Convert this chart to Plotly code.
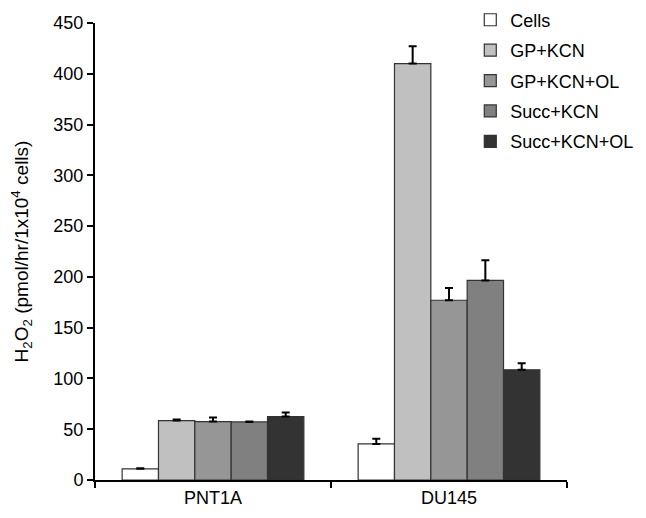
import plotly.graph_objects as go

categories = ["PNT1A", "DU145"]
series_names = ["Cells", "GP+KCN", "GP+KCN+OL", "Succ+KCN", "Succ+KCN+OL"]
values = {
    "Cells": [11, 35.5],
    "GP+KCN": [58.5, 410],
    "GP+KCN+OL": [57.5, 177],
    "Succ+KCN": [57.2, 196.5],
    "Succ+KCN+OL": [62.5, 108.5],
}
errors = {
    "Cells": [0.5, 5],
    "GP+KCN": [1, 17],
    "GP+KCN+OL": [4, 12],
    "Succ+KCN": [0.5, 20],
    "Succ+KCN+OL": [4, 6.5],
}
colors = ["#ffffff", "#c0c0c0", "#969696", "#808080", "#333333"]
y_ticks = [0, 50, 100, 150, 200, 250, 300, 350, 400, 450]

fig = go.Figure()
for name, col in zip(series_names, colors):
    fig.add_trace(go.Bar(
        name=name, x=categories, y=values[name],
        marker=dict(color=col, line=dict(color="#333333", width=1.2)),
        error_y=dict(type="data", symmetric=False, array=errors[name],
                     arrayminus=[0, 0], color="black", thickness=2, width=4),
        legendgroup=name,
    ))

fig.update_layout(
    width=646, height=518,
    margin=dict(l=95, r=79, t=23, b=38, autoexpand=False),
    paper_bgcolor="white", plot_bgcolor="white",
    barmode="group", bargap=0.23, bargroupgap=0,
    font=dict(family="Liberation Sans, Arial, sans-serif", size=18, color="black"),
    showlegend=True,
    legend=dict(xref="container", yref="container", x=0.728, y=0.997,
                xanchor="left", yanchor="top",
                traceorder="grouped", tracegroupgap=4,
                font=dict(size=18), bgcolor="rgba(0,0,0,0)",
                itemwidth=30),
    xaxis=dict(showline=True, linecolor="black", linewidth=2,
               ticks="outside", tickson="boundaries", ticklen=6,
               tickcolor="black", tickwidth=1.5, showgrid=False,
               tickfont=dict(size=18)),
    yaxis=dict(range=[0, 450], tickvals=y_ticks, showline=True,
               linecolor="black", linewidth=2, ticks="outside", ticklen=6,
               tickcolor="black", tickwidth=1.5, showgrid=False, zeroline=False,
               tickfont=dict(size=18),
               title=dict(text="H<sub>2</sub>O<sub>2</sub> (pmol/hr/1x10<sup>4</sup> cells)",
                          font=dict(size=19), standoff=20)),
)

fig.write_html("out.html")
